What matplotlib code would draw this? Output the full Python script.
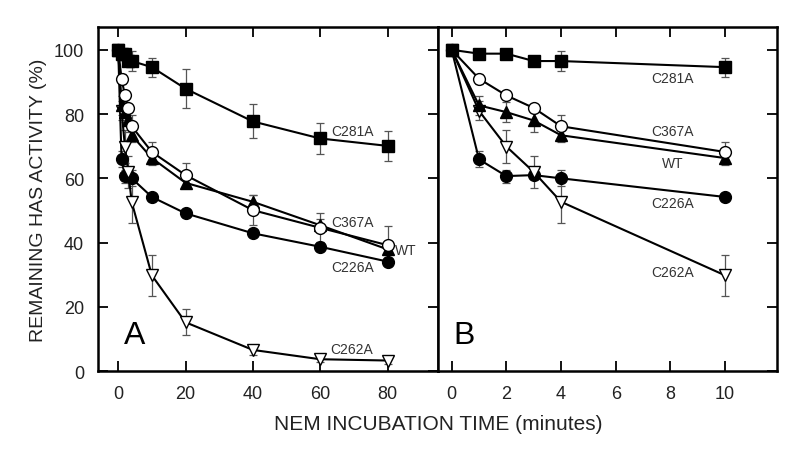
import numpy as np
import matplotlib
matplotlib.use("Agg")
import matplotlib.pyplot as plt

# time points (minutes); panel B shows the first six
times = [0, 1, 2, 3, 4, 10, 20, 40, 60, 80]

c281a = [100, 98.8, 98.8, 96.5, 96.5, 94.6, 87.9, 77.7, 72.4, 70.1]
c281a_err = [0, 1, 1, 1, 3, 3, 6, 5.3, 4.7, 4.6]
c367a = [100, 91, 85.8, 81.9, 76.2, 68.2, 61, 50.1, 44.6, 39.2]
c367a_err = [0, 1.5, 1, 1, 3.5, 3, 3.8, 4.7, 4.5, 6]
wt = [100, 82.7, 80.6, 78, 73.4, 66.3, 58.6, 52.7, 45.4, 37.9]
wt_err = [0, 3, 3, 3.5, 2, 2, 1.5, 2, 2, 1.5]
c226a = [100, 65.9, 60.7, 61, 60, 54.2, 49.1, 42.9, 38.7, 34.1]
c226a_err = [0, 2.5, 2, 1, 2.5, 1, 1, 1, 1, 1]
c262a = [100, 81, 69.9, 62, 52.7, 29.8, 15.2, 6.6, 3.7, 3.3]
c262a_err = [0, 3, 5, 5, 6.5, 6.3, 4, 1.5, 1, 1]

# label positions (x, y) per panel
labels_a = {"C281A": (69.6, 74.8), "C367A": (69.6, 46.5), "WT": (85.5, 37.7),
            "C226A": (69.6, 32.5), "C262A": (69.4, 6.9)}
labels_b = {"C281A": (8.07, 91.3), "C367A": (8.07, 74.8), "WT": (8.07, 64.8),
            "C226A": (8.07, 52.2), "C262A": (8.07, 31.0)}

series = [
    (c226a, c226a_err, "o", "black"),
    (c262a, c262a_err, "v", "white"),
    (wt, wt_err, "^", "black"),
    (c367a, c367a_err, "o", "white"),
    (c281a, c281a_err, "s", "black"),
]

plt.rcParams["font.family"] = ["Liberation Sans", "DejaVu Sans"]

fig = plt.figure(figsize=(8, 4.64), dpi=100)
axA = fig.add_axes([0.1225, 0.198, 0.425, 0.741])
axB = fig.add_axes([0.5475, 0.198, 0.42375, 0.741])


def draw(ax, n):
    t = np.array(times[:n])
    for vals, err, mk, fc in series:
        v = np.array(vals[:n])
        e = np.array(err[:n])
        ax.errorbar(t, v, yerr=e, fmt="none", ecolor="#555555", elinewidth=0.9,
                    capsize=3, capthick=0.9, zorder=2)
        ax.plot(t, v, color="black", lw=1.5, marker=mk, ms=8.5,
                mfc=fc, mec="black", mew=1.0, zorder=3)


draw(axA, len(times))
draw(axB, 6)

axA.set_xlim(-6, 95)
axB.set_xlim(-0.5, 11.9)
for ax in (axA, axB):
    ax.set_ylim(0, 107)
    for s in ax.spines.values():
        s.set_linewidth(1.8)

axA.set_xticks([0, 20, 40, 60, 80])
axB.set_xticks([0, 2, 4, 6, 8, 10])
axA.set_yticks([0, 20, 40, 60, 80, 100])
axB.set_yticks([0, 20, 40, 60, 80, 100])

axA.tick_params(direction="in", length=7, width=1.3, top=True, right=True,
                labelsize=13, pad=10)
axB.tick_params(direction="in", length=7, width=1.3, top=True, right=True,
                left=False, labelleft=False, labelsize=13, pad=10)
for ax in (axA, axB):
    for lab in ax.get_xticklabels() + ax.get_yticklabels():
        lab.set_color("#222222")

axA.set_ylabel("REMAINING HAS ACTIVITY (%)", fontsize=14, color="#222222", labelpad=5)
fig.text(0.5475, 0.085, "NEM INCUBATION TIME (minutes)", ha="center", va="center",
         fontsize=15, color="#222222")

for name, (x, y) in labels_a.items():
    axA.text(x, y, name, ha="center", va="center", fontsize=10, color="#333333")
for name, (x, y) in labels_b.items():
    axB.text(x, y, name, ha="center", va="center", fontsize=10, color="#333333")

axA.text(5, 11.3, "A", ha="center", va="center", fontsize=23)
axB.text(0.47, 11.3, "B", ha="center", va="center", fontsize=23)

fig.savefig("out.png", dpi=100)
